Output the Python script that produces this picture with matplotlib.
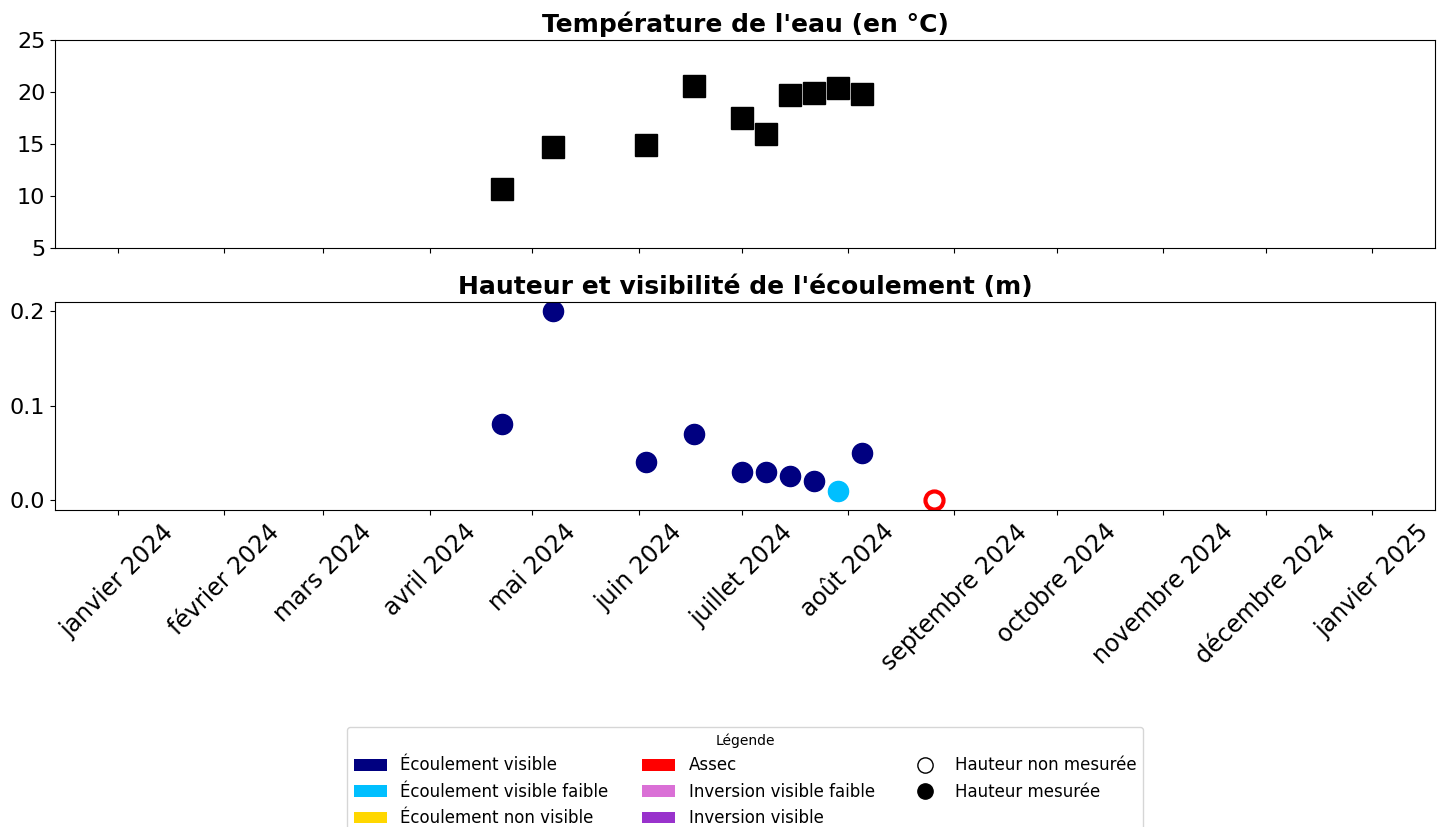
import matplotlib
matplotlib.use("Agg")
import matplotlib.pyplot as plt
from matplotlib.patches import Patch
from matplotlib.lines import Line2D
import pandas as pd

temp_dates = ["2024-04-22", "2024-05-07", "2024-06-03", "2024-06-17", "2024-07-01",
              "2024-07-08", "2024-07-15", "2024-07-22", "2024-07-29", "2024-08-05"]
temp_values = [10.7, 14.7, 14.9, 20.6, 17.5, 16.0, 19.7, 19.9, 20.4, 19.8]

height_dates = ["2024-04-22", "2024-05-07", "2024-06-03", "2024-06-17", "2024-07-01",
                "2024-07-08", "2024-07-15", "2024-07-22", "2024-07-29", "2024-08-05", "2024-08-26"]
height_values = [0.08, 0.2, 0.04, 0.07, 0.03, 0.03, 0.025, 0.02, 0.01, 0.05, 0.0]
height_status = ["Écoulement visible", "Écoulement visible", "Écoulement visible", "Écoulement visible",
                 "Écoulement visible", "Écoulement visible", "Écoulement visible", "Écoulement visible",
                 "Écoulement visible faible", "Écoulement visible", "Assec"]
height_measured = [True, True, True, True, True, True, True, True, True, True, False]

status_labels = ["Écoulement visible", "Écoulement visible faible", "Écoulement non visible",
                 "Assec", "Inversion visible faible", "Inversion visible"]
status_colors = ["#000080", "#00BFFF", "#FFD700", "#FF0000", "#DA70D6", "#9932CC"]

month_names = ["janvier", "février", "mars", "avril", "mai", "juin", "juillet", "août",
               "septembre", "octobre", "novembre", "décembre"]

color_map = dict(zip(status_labels, status_colors))

fig = plt.figure(figsize=(14.45, 8.27), dpi=100)
ax1 = fig.add_axes([55/1445, 1-248/827, 1380/1445, 208/827])
ax2 = fig.add_axes([55/1445, 1-510/827, 1380/1445, 208/827], sharex=ax1)

td = pd.to_datetime(temp_dates)
ax1.plot(td, temp_values, linestyle="none", marker="s", markersize=15.5, color="black")
ax1.set_ylim(5, 25)
ax1.set_yticks([5, 10, 15, 20, 25])
ax1.set_title("Température de l'eau (en °C)", fontsize=18, fontweight="bold")

hd = pd.to_datetime(height_dates)
for d, v, s, m in zip(hd, height_values, height_status, height_measured):
    c = color_map[s]
    if m:
        ax2.plot([d], [v], linestyle="none", marker="o", markersize=14.5, color=c)
    else:
        ax2.plot([d], [v], linestyle="none", marker="o", markersize=13, markerfacecolor="white",
                 markeredgecolor=c, markeredgewidth=3)
ax2.set_ylim(-0.0105, 0.2095)
ax2.set_yticks([0.0, 0.1, 0.2])
ax2.set_title("Hauteur et visibilité de l'écoulement (m)", fontsize=18, fontweight="bold")

start = pd.Timestamp("2024-01-01")
end = pd.Timestamp("2025-01-01")
span = end - start
ax2.set_xlim(start - span * 0.05, end + span * 0.05)

ticks = pd.date_range("2024-01-01", "2025-01-01", freq="MS")
ax2.set_xticks(ticks)
ax2.set_xticklabels([f"{month_names[t.month-1]} {t.year}" for t in ticks], rotation=45,
                    ha="center", fontsize=17)
plt.setp(ax1.get_xticklabels(), visible=False)
for ax in (ax1, ax2):
    ax.tick_params(axis="y", labelsize=16)

handles = [Patch(facecolor=c, label=l) for l, c in zip(status_labels, status_colors)]
handles += [Line2D([], [], linestyle="none", marker="o", markersize=11, markerfacecolor="white",
                   markeredgecolor="black", label="Hauteur non mesurée"),
            Line2D([], [], linestyle="none", marker="o", markersize=11, color="black",
                   label="Hauteur mesurée")]
fig.legend(handles=handles, loc="upper center", bbox_to_anchor=(745/1445, 1-727/827), ncol=3,
           title="Légende", fontsize=12, title_fontsize=10, borderaxespad=0)

fig.savefig("out.png", dpi=100)
